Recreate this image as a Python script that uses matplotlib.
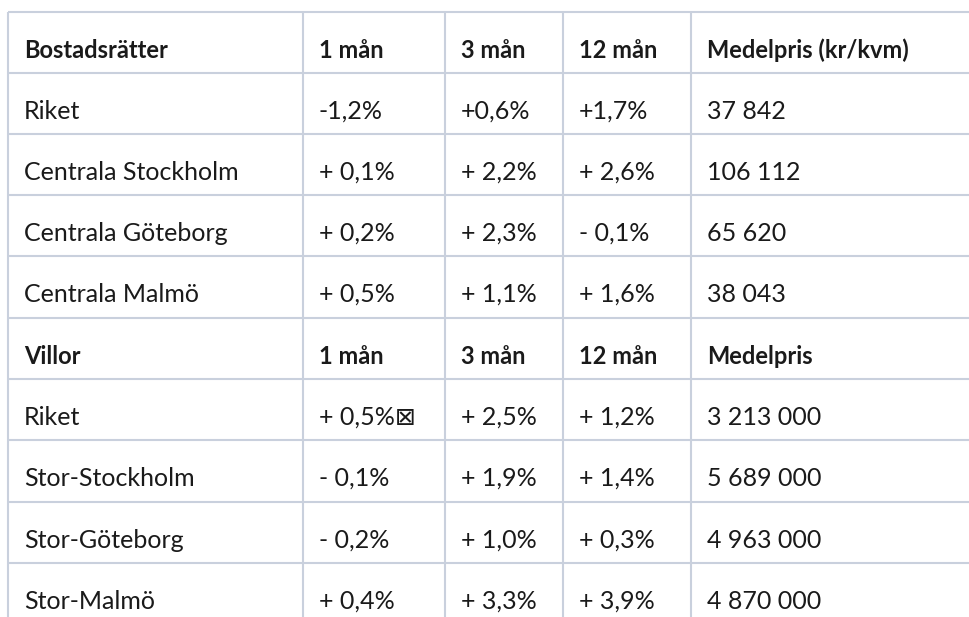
import matplotlib
matplotlib.use("Agg")
import matplotlib.pyplot as plt

# ---- data ----
header_br = ["Bostadsrätter", "1 mån", "3 mån", "12 mån", "Medelpris (kr/kvm)"]
regions_br = ["Riket", "Centrala Stockholm", "Centrala Göteborg", "Centrala Malmö"]
m1_br = ["-1,2%", "+ 0,1%", "+ 0,2%", "+ 0,5%"]
m3_br = ["+0,6%", "+ 2,2%", "+ 2,3%", "+ 1,1%"]
m12_br = ["+1,7%", "+ 2,6%", "- 0,1%", "+ 1,6%"]
price_br = ["37 842", "106 112", "65 620", "38 043"]

header_v = ["Villor", "1 mån", "3 mån", "12 mån", "Medelpris"]
regions_v = ["Riket", "Stor-Stockholm", "Stor-Göteborg", "Stor-Malmö"]
m1_v = ["+ 0,5%\u22A0", "- 0,1%", "- 0,2%", "+ 0,4%"]
m3_v = ["+ 2,5%", "+ 1,9%", "+ 1,0%", "+ 3,3%"]
m12_v = ["+ 1,2%", "+ 1,4%", "+ 0,3%", "+ 3,9%"]
price_v = ["3 213 000", "5 689 000", "4 963 000", "4 870 000"]

rows = [(header_br, True)]
for r in zip(regions_br, m1_br, m3_br, m12_br, price_br):
    rows.append((list(r), False))
rows.append((header_v, True))
for r in zip(regions_v, m1_v, m3_v, m12_v, price_v):
    rows.append((list(r), False))

# ---- layout ----
W, H = 970, 617
col_x = [8, 303, 445, 563, 691]
row_y = [12, 73, 134, 195, 256, 318, 379, 440, 502, 563, 624]
line_color = "#c9d0dd"
font = ["Lato", "DejaVu Sans"]

fig = plt.figure(figsize=(W / 100, H / 100), dpi=100)
ax = fig.add_axes([0, 0, 1, 1])
ax.set_xlim(0, W)
ax.set_ylim(H, 0)
ax.axis("off")

for y in row_y[:-1]:
    ax.plot([col_x[0], W], [y, y], color=line_color, lw=1.5, solid_capstyle="butt")
for x in col_x:
    ax.plot([x, x], [row_y[0], H], color=line_color, lw=1.5, solid_capstyle="butt")

for i, (cells, bold) in enumerate(rows):
    top = row_y[i]
    for j, txt in enumerate(cells):
        ax.text(col_x[j] + 16, top + 46, txt, fontsize=18 if not bold else 17,
                family=font, fontweight="bold" if bold else "normal",
                color="#1a1a1a", ha="left", va="baseline")

fig.savefig("out.png", dpi=100)
